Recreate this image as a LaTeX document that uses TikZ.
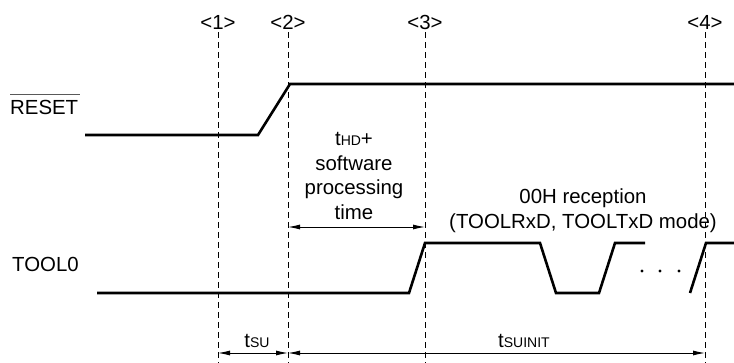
\documentclass[tikz,border=0pt]{standalone}
\usepackage{fontspec}
\setmainfont{Liberation Sans}
\usetikzlibrary{arrows.meta, positioning}

\newcommand\tsub[1]{{\fontsize{14}{14}\selectfont #1}}

\begin{document}
\begin{tikzpicture}[x=1pt, y=-1pt,
    sig/.style={line width=2.6pt, line join=miter},
    guide/.style={line width=0.9pt, dash pattern=on 6pt off 4pt},
    span/.style={line width=0.9pt, {Latex[length=12pt,width=5pt]}-{Latex[length=12pt,width=5pt]}},
    txt/.style={font=\fontsize{20.4}{24.6}\selectfont}]

    \useasboundingbox (0,0) rectangle (734,363);

    % --- 时刻标记 <1> ... <4> ---
    \foreach \x/\n in {218/1, 288/2, 425/3, 705/4} {
        \node[txt, anchor=base, inner sep=2pt] (mark\n) at (\x,30) {<\n>};
        \coordinate (g\n) at (\x,363);
        \draw[guide] (mark\n.south) -- (g\n);
    }

    % --- 信号名 ---
    \node[txt, anchor=base west, inner sep=0pt] (rst) at (10,115) {RESET};
    \draw[line width=0.9pt, gray!70!black] ([yshift=6pt]rst.north west) -- ([yshift=6pt, xshift=2pt]rst.north east);
    \node[txt, anchor=base west, inner sep=0pt] (tool) at (12,272) {TOOL0};

    % RESET 波形
    \draw[sig] (85,135) -- (258,135) -- (290,84) -- (734,84);

    % TOOL0 波形
    \draw[sig] (97,293) -- (409,293) -- (425,243) -- (540,243)
        -- (556,293) -- (599,293) -- (615,243) -- (645,243);
    \draw[sig] (690,293) -- (706,243) -- (734,243);
    \foreach \x in {642,660,679} \fill (\x,271) circle (1.6pt);

    % --- 时间标注 ---
    \node[txt, align=center] (thd) at (354,176) {t\tsub{HD}+\\software\\processing\\time};
    \coordinate (h2) at (288,227);
    \coordinate (h3) at (425,227);
    \draw[span] (h2) -- (h3);

    \node[txt, align=center] (rx) at (583,211) {00H reception\\(TOOLRxD, TOOLTxD mode)};

    \coordinate (b1) at (218,353);
    \coordinate (b2) at (288,353);
    \coordinate (b4) at (705,353);
    \draw[span] (b1) -- (b2);
    \draw[span] (b2) -- (b4);
    \node[txt, anchor=base] (tsu) at (257,348) {t\tsub{SU}};
    \node[txt, anchor=base] (tsuinit) at (524,348) {t\tsub{SUINIT}};

\end{tikzpicture}
\end{document}
